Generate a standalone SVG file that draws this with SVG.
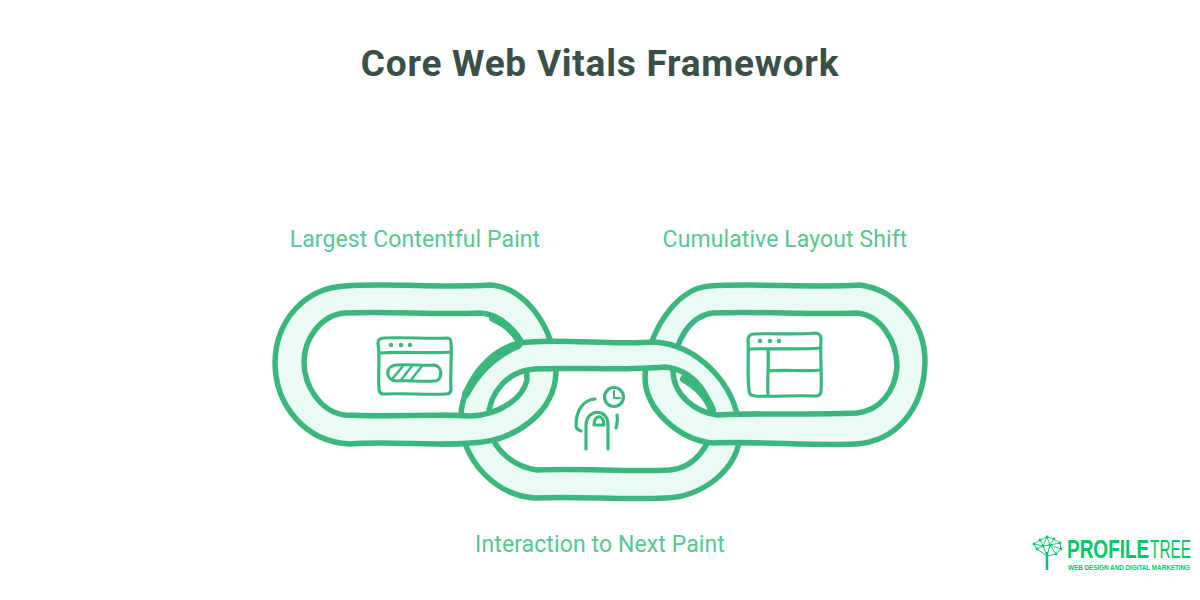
<svg xmlns="http://www.w3.org/2000/svg" width="1200" height="600" viewBox="0 0 1200 600">
<style>
.ring{fill:#e9fbf4;fill-rule:evenodd;stroke:#3bb77e;stroke-width:5.5;stroke-linejoin:round}
.acc{fill:none;stroke:#3bb77e;stroke-width:8;stroke-linecap:round}
.ic{fill:none;stroke:#3bb77e;stroke-width:3.2;stroke-linecap:round;stroke-linejoin:round}
.dot{fill:#3bb77e}
.lab{font-family:Roboto,"Liberation Sans",sans-serif;font-size:23px;fill:#58c693;font-weight:400;letter-spacing:.1px}
.logo{font-family:"Liberation Sans",Roboto,sans-serif;fill:#00c76a}
.tl{fill:none;stroke:#00c76a;stroke-width:.9}
.tn{fill:#00c76a}
</style>
<defs>
<path id="pL" d="M345 286C390 283 440 288 490 285C525 286 556 330 556 372C555 412 515 442 470 443C430 446 390 441 350 444C305 442 275 405 275 362C276 320 305 288 345 286ZM345 313C390 311 435 315 480 313C512 315 527 348 527 380C523 398 500 415 470 416C430 414 385 417 345 415C320 412 304 385 304 362C304 340 320 315 345 313Z"/>
<path id="pC" d="M530 342C570 339 610 345 655 342C695 345 735 380 740 430C741 470 700 498 665 498C620 500 580 496 535 498C495 495 460 460 461 415C462 385 490 343 530 342ZM535 369C570 367 620 371 665 367C692 370 712 392 713 425C710 445 695 468 670 470C625 472 580 468 537 470C510 466 488 445 488 418C490 392 507 371 535 369Z"/>
<path id="pR" d="M710 286C760 283 810 288 860 285C895 290 925 320 925 362C924 410 895 442 855 444C810 446 760 441 713 443C680 440 645 410 645 377C646 335 675 288 710 286ZM713 313C760 311 810 315 857 313C880 315 897 340 897 367C895 392 880 410 857 413C810 415 765 413 717 415C695 412 673 395 673 370C675 340 690 316 713 313Z"/>
<clipPath id="cl"><rect x="440" y="404" width="110" height="60"/></clipPath>
<clipPath id="cr"><rect x="650" y="404" width="110" height="60"/></clipPath>
</defs>
<rect width="1200" height="600" fill="#ffffff"/>
<text x="600" y="76" text-anchor="middle" font-family="Roboto,'Liberation Sans',sans-serif" font-size="37" font-weight="700" letter-spacing=".75" fill="#3a4f45">Core Web Vitals Framework</text>
<g id="connectors">
<use id="link-left" href="#pL" class="ring"/>
<path class="acc" d="M493 318C505 323 513 330 519 340"/>
<use id="link-right" href="#pR" class="ring"/>
<use id="link-center" href="#pC" class="ring"/>
<path class="acc" d="M466 394C477 372 495 355 518 345M684 379C697 386 708 398 712 410"/>
<use href="#pL" class="ring" clip-path="url(#cl)"/>
<use href="#pR" class="ring" clip-path="url(#cr)"/>
</g>
<g id="node-lcp">
<text class="lab" x="415" y="247" text-anchor="middle">Largest Contentful Paint</text>
<path class="ic" d="M384 338C405 337 430 339 447 338Q451 338 451 343C452 358 450 375 451 389Q451 394 446 394C425 395 405 393 384 394Q379 394 379 389C378 372 380 358 378 343Q378 338 384 338ZM379 353C405 351 430 354 451 352M396 365C410 364 425 366 434 365C443 366 443 381 434 381C420 382 408 380 396 381C385 380 385 366 396 365Z"/>
<circle class="dot" cx="391" cy="345" r="2.2"/><circle class="dot" cx="401" cy="345" r="2.2"/><circle class="dot" cx="410" cy="345" r="2.2"/>
<path class="ic" style="stroke-width:2.5" d="M393 378L403 366M401 380L412 366M411 380L422 366"/>
</g>
<g id="node-cls">
<text class="lab" x="785" y="247" text-anchor="middle">Cumulative Layout Shift</text>
<path class="ic" d="M754 334C775 333 795 335 816 333Q821 334 821 339C820 358 822 375 821 391Q821 396 815 396C795 395 775 397 755 396Q749 396 749 390C747 372 749 355 748 339Q749 334 754 334ZM749 349C775 348 795 350 821 348M768 349C769 365 767 380 768 396M768 371C785 369 805 372 821 370"/>
<circle class="dot" cx="760" cy="341" r="2.2"/><circle class="dot" cx="770" cy="341" r="2.2"/><circle class="dot" cx="779" cy="341" r="2.2"/>
</g>
<g id="node-inp">
<text class="lab" x="600" y="552" text-anchor="middle">Interaction to Next Paint</text>
<path class="ic" d="M586 449L586 425C587 408 608 408 608 425L608 449M594 425C594 414 604 414 604 425ZM595 399C582 400 576 412 576 425C576 428 578 430 581 431M617 415C618 420 617 424 616 428"/>
<circle class="ic" cx="614" cy="397" r="9.5"/>
<path class="ic" style="stroke-width:2" d="M614 391L614 398L620 398"/>
</g>
<g id="logo">
<text class="logo" transform="translate(1067 558) scale(.76 1)" font-size="25" font-weight="700">PROFILE</text>
<text class="logo" transform="translate(1150 558) scale(.615 1)" font-size="25">TREE</text>
<text class="logo" x="1068" y="570" font-size="6.4" font-weight="700" textLength="122" lengthAdjust="spacingAndGlyphs">WEB DESIGN AND DIGITAL MARKETING</text>
<path d="M1047 570L1047 552" stroke="#00c76a" stroke-width="2.5" fill="none"/>
<path class="tl" d="M1047 556L1037 549L1034 544L1040 540L1047 537L1054 539L1060 543L1061 549L1056 554L1047 556M1037 549L1043 546L1040 540M1043 546L1047 537L1050 545L1054 539M1050 545L1060 543M1050 545L1056 554M1043 546L1047 556M1050 545L1047 556M1043 546L1050 545M1034 544L1043 546M1050 545L1061 549"/>
<g><circle class="tn" cx="1037" cy="549" r="1.4"/><circle class="tn" cx="1034" cy="544" r="1.4"/><circle class="tn" cx="1040" cy="540" r="1.4"/><circle class="tn" cx="1047" cy="537" r="1.4"/><circle class="tn" cx="1054" cy="539" r="1.4"/><circle class="tn" cx="1060" cy="543" r="1.4"/><circle class="tn" cx="1061" cy="549" r="1.4"/><circle class="tn" cx="1056" cy="554" r="1.4"/><circle class="tn" cx="1043" cy="546" r="1.4"/><circle class="tn" cx="1050" cy="545" r="1.4"/></g>
</g>
</svg>
